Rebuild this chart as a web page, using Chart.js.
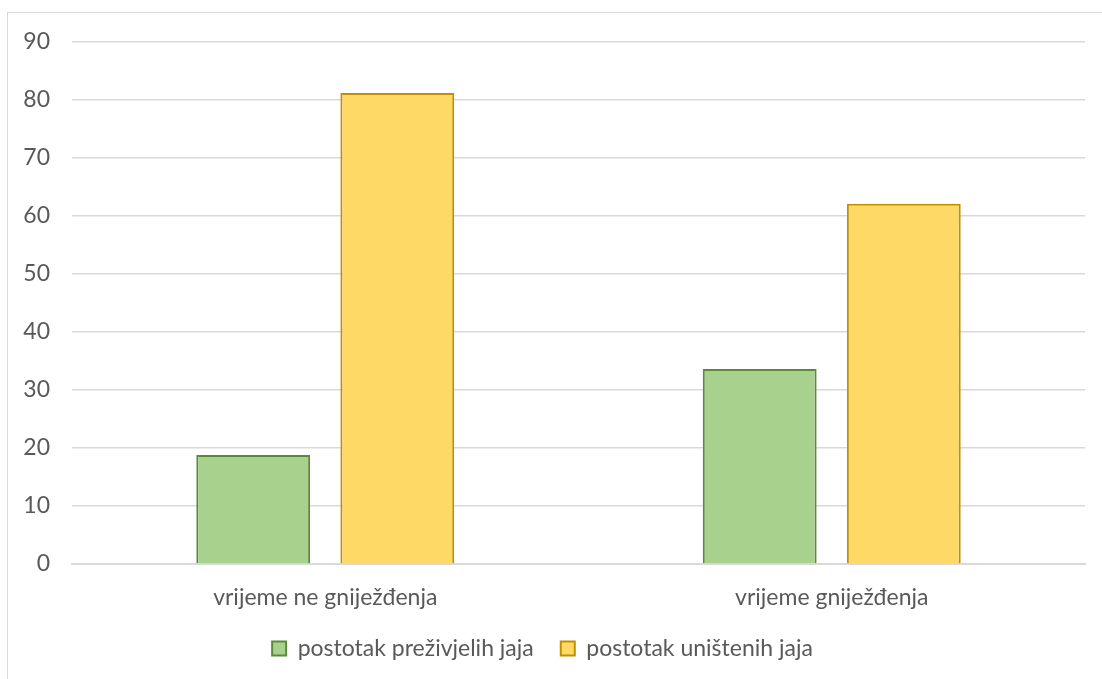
<!DOCTYPE html>
<html>
<head>
<meta charset="utf-8">
<script src="https://cdn.jsdelivr.net/npm/chart.js@4"></script>
<style>
  html, body { margin: 0; padding: 0; background: #fff; overflow: hidden; }
  #okvir { position: absolute; left: 7px; top: 12px; width: 1300px; height: 900px; border: 1px solid #d9d9d9; }
  #wrap { position: absolute; left: 0; top: 0; width: 1102px; height: 679px; }
</style>
</head>
<body>
<div id="okvir"></div>
<div id="wrap"><canvas id="graf"></canvas></div>
<script>
// podaci s grafa
var kategorije = ['vrijeme ne gniježđenja', 'vrijeme gniježđenja'];
var prezivjela = [18.8, 33.6];
var unistena = [81.2, 62.1];
var oznakeY = [0, 10, 20, 30, 40, 50, 60, 70, 80, 90];

var sivaSlova = '#595959';
var font = { family: 'Lato', size: 23 };

var ctx = document.getElementById('graf').getContext('2d');
var myChart = new Chart(ctx, {
    type: 'bar',
    data: {
        labels: kategorije,
        datasets: [{
            label: 'postotak preživjelih jaja',
            data: prezivjela,
            backgroundColor: '#a9d18e',
            borderColor: '#5a8a3a',
            borderWidth: 2
        }, {
            label: 'postotak uništenih jaja',
            data: unistena,
            backgroundColor: '#ffd966',
            borderColor: '#bf9000',
            borderWidth: 2
        }]
    },
    options: {
        responsive: true,
        maintainAspectRatio: false,
        animation: false,
        categoryPercentage: 0.569,
        barPercentage: 0.79,
        layout: { padding: { top: 42, right: 17, left: 0, bottom: 9 } },
        plugins: {
            tooltip: { enabled: false },
            legend: {
                position: 'bottom',
                maxHeight: 60,
                labels: {
                    color: sivaSlova,
                    font: font,
                    boxWidth: 14,
                    boxHeight: 14,
                    padding: 27
                }
            }
        },
        scales: {
            x: {
                grid: { display: false },
                border: { color: '#d9d9d9', width: 2 },
                afterFit: function(scale) { scale.height = 46; },
                ticks: { color: sivaSlova, font: font, padding: 12 }
            },
            y: {
                min: 0,
                max: 90,
                afterFit: function(scale) { scale.width = 72; },
                afterBuildTicks: function(scale) {
                    scale.ticks = oznakeY.map(function(v) { return { value: v }; });
                },
                grid: { color: '#d9d9d9', lineWidth: 1.5, drawTicks: false },
                border: { display: false },
                ticks: { color: sivaSlova, font: font, padding: 22 }
            }
        }
    }
});
</script>
</body>
</html>
